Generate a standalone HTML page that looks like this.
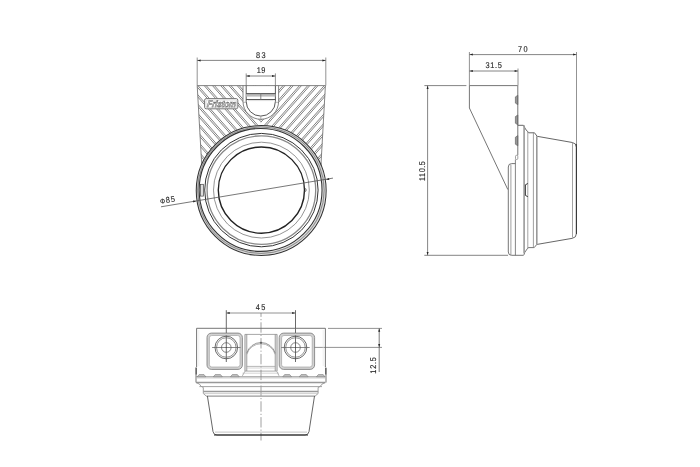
<!DOCTYPE html>
<html><head><meta charset="utf-8"><style>
html,body{margin:0;padding:0;background:#fff;}
svg{display:block;will-change:transform;font-family:"Liberation Sans",sans-serif;}
</style></head><body>
<svg width="700" height="467" viewBox="0 0 700 467">
<rect width="700" height="467" fill="#fff"/>
<defs>
<clipPath id="cl"><polygon points="197.2,85.6 325.6,85.6 320.8,175 202.0,175"/></clipPath>
<clipPath id="cL"><rect x="190" y="80" width="70.8" height="100"/></clipPath>
<clipPath id="cR"><rect x="260.8" y="80" width="70" height="100"/></clipPath>
</defs>
<g clip-path="url(#cl)">
<g clip-path="url(#cL)">
<line x1="75.49" y1="80.00" x2="163.99" y2="180.00" stroke="#4a4a4a" stroke-width="0.7" />
<line x1="77.49" y1="80.00" x2="165.99" y2="180.00" stroke="#4a4a4a" stroke-width="0.7" />
<line x1="83.74" y1="80.00" x2="172.24" y2="180.00" stroke="#4a4a4a" stroke-width="0.7" />
<line x1="85.74" y1="80.00" x2="174.24" y2="180.00" stroke="#4a4a4a" stroke-width="0.7" />
<line x1="91.99" y1="80.00" x2="180.49" y2="180.00" stroke="#4a4a4a" stroke-width="0.7" />
<line x1="93.99" y1="80.00" x2="182.49" y2="180.00" stroke="#4a4a4a" stroke-width="0.7" />
<line x1="100.24" y1="80.00" x2="188.74" y2="180.00" stroke="#4a4a4a" stroke-width="0.7" />
<line x1="102.24" y1="80.00" x2="190.74" y2="180.00" stroke="#4a4a4a" stroke-width="0.7" />
<line x1="108.49" y1="80.00" x2="196.99" y2="180.00" stroke="#4a4a4a" stroke-width="0.7" />
<line x1="110.49" y1="80.00" x2="198.99" y2="180.00" stroke="#4a4a4a" stroke-width="0.7" />
<line x1="116.74" y1="80.00" x2="205.24" y2="180.00" stroke="#4a4a4a" stroke-width="0.7" />
<line x1="118.74" y1="80.00" x2="207.24" y2="180.00" stroke="#4a4a4a" stroke-width="0.7" />
<line x1="124.99" y1="80.00" x2="213.49" y2="180.00" stroke="#4a4a4a" stroke-width="0.7" />
<line x1="126.99" y1="80.00" x2="215.49" y2="180.00" stroke="#4a4a4a" stroke-width="0.7" />
<line x1="133.24" y1="80.00" x2="221.74" y2="180.00" stroke="#4a4a4a" stroke-width="0.7" />
<line x1="135.24" y1="80.00" x2="223.74" y2="180.00" stroke="#4a4a4a" stroke-width="0.7" />
<line x1="141.49" y1="80.00" x2="229.99" y2="180.00" stroke="#4a4a4a" stroke-width="0.7" />
<line x1="143.49" y1="80.00" x2="231.99" y2="180.00" stroke="#4a4a4a" stroke-width="0.7" />
<line x1="149.74" y1="80.00" x2="238.24" y2="180.00" stroke="#4a4a4a" stroke-width="0.7" />
<line x1="151.74" y1="80.00" x2="240.24" y2="180.00" stroke="#4a4a4a" stroke-width="0.7" />
<line x1="157.99" y1="80.00" x2="246.49" y2="180.00" stroke="#4a4a4a" stroke-width="0.7" />
<line x1="159.99" y1="80.00" x2="248.49" y2="180.00" stroke="#4a4a4a" stroke-width="0.7" />
<line x1="166.24" y1="80.00" x2="254.74" y2="180.00" stroke="#4a4a4a" stroke-width="0.7" />
<line x1="168.24" y1="80.00" x2="256.74" y2="180.00" stroke="#4a4a4a" stroke-width="0.7" />
<line x1="174.49" y1="80.00" x2="262.99" y2="180.00" stroke="#4a4a4a" stroke-width="0.7" />
<line x1="176.49" y1="80.00" x2="264.99" y2="180.00" stroke="#4a4a4a" stroke-width="0.7" />
<line x1="182.74" y1="80.00" x2="271.24" y2="180.00" stroke="#4a4a4a" stroke-width="0.7" />
<line x1="184.74" y1="80.00" x2="273.24" y2="180.00" stroke="#4a4a4a" stroke-width="0.7" />
<line x1="190.99" y1="80.00" x2="279.49" y2="180.00" stroke="#4a4a4a" stroke-width="0.7" />
<line x1="192.99" y1="80.00" x2="281.49" y2="180.00" stroke="#4a4a4a" stroke-width="0.7" />
<line x1="199.24" y1="80.00" x2="287.74" y2="180.00" stroke="#4a4a4a" stroke-width="0.7" />
<line x1="201.24" y1="80.00" x2="289.74" y2="180.00" stroke="#4a4a4a" stroke-width="0.7" />
<line x1="207.49" y1="80.00" x2="295.99" y2="180.00" stroke="#4a4a4a" stroke-width="0.7" />
<line x1="209.49" y1="80.00" x2="297.99" y2="180.00" stroke="#4a4a4a" stroke-width="0.7" />
<line x1="215.74" y1="80.00" x2="304.24" y2="180.00" stroke="#4a4a4a" stroke-width="0.7" />
<line x1="217.74" y1="80.00" x2="306.24" y2="180.00" stroke="#4a4a4a" stroke-width="0.7" />
<line x1="223.99" y1="80.00" x2="312.49" y2="180.00" stroke="#4a4a4a" stroke-width="0.7" />
<line x1="225.99" y1="80.00" x2="314.49" y2="180.00" stroke="#4a4a4a" stroke-width="0.7" />
<line x1="232.24" y1="80.00" x2="320.74" y2="180.00" stroke="#4a4a4a" stroke-width="0.7" />
<line x1="234.24" y1="80.00" x2="322.74" y2="180.00" stroke="#4a4a4a" stroke-width="0.7" />
<line x1="240.49" y1="80.00" x2="328.99" y2="180.00" stroke="#4a4a4a" stroke-width="0.7" />
<line x1="242.49" y1="80.00" x2="330.99" y2="180.00" stroke="#4a4a4a" stroke-width="0.7" />
<line x1="248.74" y1="80.00" x2="337.24" y2="180.00" stroke="#4a4a4a" stroke-width="0.7" />
<line x1="250.74" y1="80.00" x2="339.24" y2="180.00" stroke="#4a4a4a" stroke-width="0.7" />
<line x1="256.99" y1="80.00" x2="345.49" y2="180.00" stroke="#4a4a4a" stroke-width="0.7" />
<line x1="258.99" y1="80.00" x2="347.49" y2="180.00" stroke="#4a4a4a" stroke-width="0.7" />
<line x1="265.24" y1="80.00" x2="353.74" y2="180.00" stroke="#4a4a4a" stroke-width="0.7" />
<line x1="267.24" y1="80.00" x2="355.74" y2="180.00" stroke="#4a4a4a" stroke-width="0.7" />
<line x1="273.49" y1="80.00" x2="361.99" y2="180.00" stroke="#4a4a4a" stroke-width="0.7" />
<line x1="275.49" y1="80.00" x2="363.99" y2="180.00" stroke="#4a4a4a" stroke-width="0.7" />
<line x1="281.74" y1="80.00" x2="370.24" y2="180.00" stroke="#4a4a4a" stroke-width="0.7" />
<line x1="283.74" y1="80.00" x2="372.24" y2="180.00" stroke="#4a4a4a" stroke-width="0.7" />
<line x1="289.99" y1="80.00" x2="378.49" y2="180.00" stroke="#4a4a4a" stroke-width="0.7" />
<line x1="291.99" y1="80.00" x2="380.49" y2="180.00" stroke="#4a4a4a" stroke-width="0.7" />
<line x1="298.24" y1="80.00" x2="386.74" y2="180.00" stroke="#4a4a4a" stroke-width="0.7" />
<line x1="300.24" y1="80.00" x2="388.74" y2="180.00" stroke="#4a4a4a" stroke-width="0.7" />
</g>
<g clip-path="url(#cR)">
<line x1="446.71" y1="80.00" x2="358.21" y2="180.00" stroke="#4a4a4a" stroke-width="0.7" />
<line x1="444.71" y1="80.00" x2="356.21" y2="180.00" stroke="#4a4a4a" stroke-width="0.7" />
<line x1="438.46" y1="80.00" x2="349.96" y2="180.00" stroke="#4a4a4a" stroke-width="0.7" />
<line x1="436.46" y1="80.00" x2="347.96" y2="180.00" stroke="#4a4a4a" stroke-width="0.7" />
<line x1="430.21" y1="80.00" x2="341.71" y2="180.00" stroke="#4a4a4a" stroke-width="0.7" />
<line x1="428.21" y1="80.00" x2="339.71" y2="180.00" stroke="#4a4a4a" stroke-width="0.7" />
<line x1="421.96" y1="80.00" x2="333.46" y2="180.00" stroke="#4a4a4a" stroke-width="0.7" />
<line x1="419.96" y1="80.00" x2="331.46" y2="180.00" stroke="#4a4a4a" stroke-width="0.7" />
<line x1="413.71" y1="80.00" x2="325.21" y2="180.00" stroke="#4a4a4a" stroke-width="0.7" />
<line x1="411.71" y1="80.00" x2="323.21" y2="180.00" stroke="#4a4a4a" stroke-width="0.7" />
<line x1="405.46" y1="80.00" x2="316.96" y2="180.00" stroke="#4a4a4a" stroke-width="0.7" />
<line x1="403.46" y1="80.00" x2="314.96" y2="180.00" stroke="#4a4a4a" stroke-width="0.7" />
<line x1="397.21" y1="80.00" x2="308.71" y2="180.00" stroke="#4a4a4a" stroke-width="0.7" />
<line x1="395.21" y1="80.00" x2="306.71" y2="180.00" stroke="#4a4a4a" stroke-width="0.7" />
<line x1="388.96" y1="80.00" x2="300.46" y2="180.00" stroke="#4a4a4a" stroke-width="0.7" />
<line x1="386.96" y1="80.00" x2="298.46" y2="180.00" stroke="#4a4a4a" stroke-width="0.7" />
<line x1="380.71" y1="80.00" x2="292.21" y2="180.00" stroke="#4a4a4a" stroke-width="0.7" />
<line x1="378.71" y1="80.00" x2="290.21" y2="180.00" stroke="#4a4a4a" stroke-width="0.7" />
<line x1="372.46" y1="80.00" x2="283.96" y2="180.00" stroke="#4a4a4a" stroke-width="0.7" />
<line x1="370.46" y1="80.00" x2="281.96" y2="180.00" stroke="#4a4a4a" stroke-width="0.7" />
<line x1="364.21" y1="80.00" x2="275.71" y2="180.00" stroke="#4a4a4a" stroke-width="0.7" />
<line x1="362.21" y1="80.00" x2="273.71" y2="180.00" stroke="#4a4a4a" stroke-width="0.7" />
<line x1="355.96" y1="80.00" x2="267.46" y2="180.00" stroke="#4a4a4a" stroke-width="0.7" />
<line x1="353.96" y1="80.00" x2="265.46" y2="180.00" stroke="#4a4a4a" stroke-width="0.7" />
<line x1="347.71" y1="80.00" x2="259.21" y2="180.00" stroke="#4a4a4a" stroke-width="0.7" />
<line x1="345.71" y1="80.00" x2="257.21" y2="180.00" stroke="#4a4a4a" stroke-width="0.7" />
<line x1="339.46" y1="80.00" x2="250.96" y2="180.00" stroke="#4a4a4a" stroke-width="0.7" />
<line x1="337.46" y1="80.00" x2="248.96" y2="180.00" stroke="#4a4a4a" stroke-width="0.7" />
<line x1="331.21" y1="80.00" x2="242.71" y2="180.00" stroke="#4a4a4a" stroke-width="0.7" />
<line x1="329.21" y1="80.00" x2="240.71" y2="180.00" stroke="#4a4a4a" stroke-width="0.7" />
<line x1="322.96" y1="80.00" x2="234.46" y2="180.00" stroke="#4a4a4a" stroke-width="0.7" />
<line x1="320.96" y1="80.00" x2="232.46" y2="180.00" stroke="#4a4a4a" stroke-width="0.7" />
<line x1="314.71" y1="80.00" x2="226.21" y2="180.00" stroke="#4a4a4a" stroke-width="0.7" />
<line x1="312.71" y1="80.00" x2="224.21" y2="180.00" stroke="#4a4a4a" stroke-width="0.7" />
<line x1="306.46" y1="80.00" x2="217.96" y2="180.00" stroke="#4a4a4a" stroke-width="0.7" />
<line x1="304.46" y1="80.00" x2="215.96" y2="180.00" stroke="#4a4a4a" stroke-width="0.7" />
<line x1="298.21" y1="80.00" x2="209.71" y2="180.00" stroke="#4a4a4a" stroke-width="0.7" />
<line x1="296.21" y1="80.00" x2="207.71" y2="180.00" stroke="#4a4a4a" stroke-width="0.7" />
<line x1="289.96" y1="80.00" x2="201.46" y2="180.00" stroke="#4a4a4a" stroke-width="0.7" />
<line x1="287.96" y1="80.00" x2="199.46" y2="180.00" stroke="#4a4a4a" stroke-width="0.7" />
<line x1="281.71" y1="80.00" x2="193.21" y2="180.00" stroke="#4a4a4a" stroke-width="0.7" />
<line x1="279.71" y1="80.00" x2="191.21" y2="180.00" stroke="#4a4a4a" stroke-width="0.7" />
<line x1="273.46" y1="80.00" x2="184.96" y2="180.00" stroke="#4a4a4a" stroke-width="0.7" />
<line x1="271.46" y1="80.00" x2="182.96" y2="180.00" stroke="#4a4a4a" stroke-width="0.7" />
<line x1="265.21" y1="80.00" x2="176.71" y2="180.00" stroke="#4a4a4a" stroke-width="0.7" />
<line x1="263.21" y1="80.00" x2="174.71" y2="180.00" stroke="#4a4a4a" stroke-width="0.7" />
<line x1="256.96" y1="80.00" x2="168.46" y2="180.00" stroke="#4a4a4a" stroke-width="0.7" />
<line x1="254.96" y1="80.00" x2="166.46" y2="180.00" stroke="#4a4a4a" stroke-width="0.7" />
<line x1="248.71" y1="80.00" x2="160.21" y2="180.00" stroke="#4a4a4a" stroke-width="0.7" />
<line x1="246.71" y1="80.00" x2="158.21" y2="180.00" stroke="#4a4a4a" stroke-width="0.7" />
<line x1="240.46" y1="80.00" x2="151.96" y2="180.00" stroke="#4a4a4a" stroke-width="0.7" />
<line x1="238.46" y1="80.00" x2="149.96" y2="180.00" stroke="#4a4a4a" stroke-width="0.7" />
<line x1="232.21" y1="80.00" x2="143.71" y2="180.00" stroke="#4a4a4a" stroke-width="0.7" />
<line x1="230.21" y1="80.00" x2="141.71" y2="180.00" stroke="#4a4a4a" stroke-width="0.7" />
<line x1="223.96" y1="80.00" x2="135.46" y2="180.00" stroke="#4a4a4a" stroke-width="0.7" />
<line x1="221.96" y1="80.00" x2="133.46" y2="180.00" stroke="#4a4a4a" stroke-width="0.7" />
</g>
</g>
<circle cx="261.2" cy="190.5" r="65.3" fill="#fff"/>
<path d="M243,85.6 V101.5 A17.75,17.75 0 0 0 278.5,101.5 V85.6 Z" fill="#fff"/>
<rect x="204.3" y="98.4" width="33.7" height="10.6" rx="1.5" fill="#fff"/>
<line x1="197.20" y1="85.60" x2="325.60" y2="85.60" stroke="#777" stroke-width="0.9" />
<line x1="197.20" y1="85.60" x2="201.80" y2="166.00" stroke="#777" stroke-width="0.9" />
<line x1="325.40" y1="85.60" x2="320.90" y2="166.00" stroke="#777" stroke-width="0.9" />
<path d="M243,85.6 V101.5 A17.8,17.8 0 0 0 278.6,101.5 V85.6" fill="none" stroke="#666" stroke-width="0.8"/>
<path d="M246.2,85.6 V101.5 A14.6,14.6 0 0 0 275.4,101.5 V85.6" fill="none" stroke="#444" stroke-width="0.9"/>
<rect x="246.2" y="93.6" width="29.2" height="3" fill="#bbb"/>
<line x1="246.20" y1="93.60" x2="275.40" y2="93.60" stroke="#444" stroke-width="0.9" />
<line x1="246.20" y1="99.50" x2="275.40" y2="99.50" stroke="#444" stroke-width="0.9" />
<line x1="260.80" y1="93.60" x2="260.80" y2="99.50" stroke="#777" stroke-width="0.9" />
<line x1="248.00" y1="100.60" x2="273.60" y2="100.60" stroke="#d0d0d0" stroke-width="0.7" />
<line x1="260.80" y1="116.10" x2="260.80" y2="119.30" stroke="#999" stroke-width="0.8" />
<line x1="243.00" y1="102.30" x2="246.20" y2="102.30" stroke="#888" stroke-width="0.6" />
<line x1="275.40" y1="102.30" x2="278.60" y2="102.30" stroke="#888" stroke-width="0.6" />
<rect x="204.6" y="98.6" width="33.2" height="10.2" rx="1.6" fill="none" stroke="#666" stroke-width="0.9"/>
<rect x="206.1" y="100" width="30.6" height="7.6" rx="0.8" fill="none" stroke="#bbb" stroke-width="0.5"/>
<text x="221.3" y="107.3" font-size="9.4" font-weight="bold" font-style="italic" text-anchor="middle" fill="#e4e4e4" stroke="#555" stroke-width="0.5" textLength="29.0" lengthAdjust="spacingAndGlyphs" text-rendering="geometricPrecision" transform="translate(221.3 107.3) skewX(-8) translate(-221.3 -107.3)">Fristom</text>
<circle cx="260.9" cy="190.2" r="63.2" fill="none" stroke="#d4d4d4" stroke-width="2.6"/>
<circle cx="260.9" cy="190.2" r="63.3" fill="none" stroke="#777" stroke-width="0.8"/>
<circle cx="261.2" cy="190.5" r="64.95" fill="none" stroke="#333" stroke-width="1.05"/>
<circle cx="260.6" cy="189.95" r="61.45" fill="none" stroke="#333" stroke-width="1.1"/>
<circle cx="261.4" cy="190.1" r="56.7" fill="none" stroke="#333" stroke-width="1.0"/>
<circle cx="261.4" cy="190.1" r="54.3" fill="none" stroke="#888" stroke-width="1.3"/>
<circle cx="261.4" cy="190.1" r="47.9" fill="none" stroke="#7a7a7a" stroke-width="0.8"/>
<circle cx="261.4" cy="190.1" r="43.1" fill="none" stroke="#222" stroke-width="1.4"/>
<rect x="200.4" y="184.3" width="3.0" height="11.8" fill="#ddd" stroke="#444" stroke-width="0.7"/>
<path d="M304.5,188.3 A1.7,1.7 0 0 1 304.5,191.7" fill="none" stroke="#555" stroke-width="0.8"/>
<line x1="197.20" y1="57.50" x2="197.20" y2="85.60" stroke="#777" stroke-width="0.8" />
<line x1="325.80" y1="57.50" x2="325.80" y2="85.60" stroke="#777" stroke-width="0.8" />
<line x1="197.20" y1="60.40" x2="325.80" y2="60.40" stroke="#666" stroke-width="0.8" />
<polygon points="197.40,60.40 200.60,59.40 200.60,61.40" fill="#222"/>
<polygon points="325.60,60.40 322.40,61.40 322.40,59.40" fill="#222"/>
<text x="261.5" y="57.8" font-size="8.4" text-anchor="middle" letter-spacing="1.6" fill="#262626" stroke="#262626" stroke-width="0.14" text-rendering="geometricPrecision" transform="translate(261.5 57.8) scale(0.88 1) translate(-261.5 -57.8)">83</text>
<line x1="246.20" y1="73.40" x2="246.20" y2="85.60" stroke="#777" stroke-width="0.8" />
<line x1="275.40" y1="73.40" x2="275.40" y2="85.60" stroke="#777" stroke-width="0.8" />
<line x1="246.20" y1="76.00" x2="275.40" y2="76.00" stroke="#666" stroke-width="0.8" />
<polygon points="246.40,76.00 249.60,75.00 249.60,77.00" fill="#222"/>
<polygon points="275.20,76.00 272.00,77.00 272.00,75.00" fill="#222"/>
<text x="261.3" y="72.9" font-size="8.4" text-anchor="middle" letter-spacing="0.5" fill="#262626" stroke="#262626" stroke-width="0.14" text-rendering="geometricPrecision" transform="translate(261.3 72.9) scale(0.88 1) translate(-261.3 -72.9)">19</text>
<line x1="161.00" y1="206.80" x2="333.00" y2="178.10" stroke="#555" stroke-width="0.8" />
<polygon points="196.30,201.00 193.31,202.51 192.98,200.54" fill="#222"/>
<polygon points="326.00,179.50 328.99,177.99 329.32,179.96" fill="#222"/>
<text x="168.4" y="202.7" font-size="8.4" text-anchor="middle" letter-spacing="1.1" fill="#2a2a2a" stroke="#2a2a2a" stroke-width="0.14" text-rendering="geometricPrecision" transform="rotate(-9.5 168.4 202.7) translate(168.4 202.7) scale(0.88 1) translate(-168.4 -202.7)"><tspan font-size="7.2">&#934;</tspan>85</text>
<line x1="469.40" y1="52.00" x2="469.40" y2="85.60" stroke="#777" stroke-width="0.8" />
<line x1="576.50" y1="52.00" x2="576.50" y2="143.70" stroke="#777" stroke-width="0.8" />
<line x1="469.40" y1="54.60" x2="576.50" y2="54.60" stroke="#666" stroke-width="0.8" />
<polygon points="469.60,54.60 472.80,53.60 472.80,55.60" fill="#222"/>
<polygon points="576.30,54.60 573.10,55.60 573.10,53.60" fill="#222"/>
<text x="523.5" y="51.8" font-size="8.4" text-anchor="middle" letter-spacing="1.6" fill="#262626" stroke="#262626" stroke-width="0.14" text-rendering="geometricPrecision" transform="translate(523.5 51.8) scale(0.88 1) translate(-523.5 -51.8)">70</text>
<line x1="518.00" y1="68.50" x2="518.00" y2="85.60" stroke="#777" stroke-width="0.8" />
<line x1="469.40" y1="71.00" x2="518.00" y2="71.00" stroke="#666" stroke-width="0.8" />
<polygon points="469.60,71.00 472.80,70.00 472.80,72.00" fill="#222"/>
<polygon points="517.80,71.00 514.60,72.00 514.60,70.00" fill="#222"/>
<text x="494.0" y="68.2" font-size="8.4" text-anchor="middle" letter-spacing="0.75" fill="#262626" stroke="#262626" stroke-width="0.14" text-rendering="geometricPrecision" transform="translate(494.0 68.2) scale(0.88 1) translate(-494.0 -68.2)">31.5</text>
<line x1="424.40" y1="85.60" x2="466.40" y2="85.60" stroke="#777" stroke-width="0.9" />
<line x1="424.30" y1="255.30" x2="508.00" y2="255.30" stroke="#777" stroke-width="0.9" />
<line x1="427.60" y1="85.60" x2="427.60" y2="255.30" stroke="#666" stroke-width="0.8" />
<polygon points="427.60,85.80 428.60,89.00 426.60,89.00" fill="#222"/>
<polygon points="427.60,255.10 426.60,251.90 428.60,251.90" fill="#222"/>
<text x="424.8" y="170.8" font-size="8.4" text-anchor="middle" letter-spacing="0.6" fill="#262626" stroke="#262626" stroke-width="0.14" text-rendering="geometricPrecision" transform="rotate(-90 424.8 170.8) translate(424.8 170.8) scale(0.88 1) translate(-424.8 -170.8)">110.5</text>
<line x1="469.40" y1="85.60" x2="517.70" y2="85.60" stroke="#666" stroke-width="0.9" />
<line x1="469.40" y1="85.60" x2="469.40" y2="108.00" stroke="#666" stroke-width="0.9" />
<line x1="469.40" y1="108.00" x2="507.80" y2="189.50" stroke="#666" stroke-width="0.9" />
<polygon points="517.8,95.3 515.4,96.89999999999999 515.4,103.10000000000001 517.8,104.7" fill="#999" stroke="#666" stroke-width="0.7"/>
<polygon points="517.8,115 515.4,116.6 515.4,123.2 517.8,124.8" fill="#999" stroke="#666" stroke-width="0.7"/>
<polygon points="517.8,135.6 515.4,137.2 515.4,144.20000000000002 517.8,145.8" fill="#999" stroke="#666" stroke-width="0.7"/>
<path d="M517.8,85.6 V155.3" fill="none" stroke="#666" stroke-width="0.9"/>
<rect x="515.5" y="155.3" width="2.3" height="4.2" rx="1.1" fill="none" stroke="#777" stroke-width="0.7"/>
<line x1="515.40" y1="159.50" x2="515.40" y2="255.30" stroke="#666" stroke-width="0.8" />
<path d="M515.4,163.6 H511.6 Q508.3,163.6 508.3,167 V252 Q508.3,255.3 511.6,255.3 H523.2 Q524.4,255.3 524.8,252.3 L528.1,247.6 H534.2 L537,244.2" fill="none" stroke="#666" stroke-width="0.9"/>
<line x1="510.90" y1="164.50" x2="510.90" y2="255.30" stroke="#888" stroke-width="0.8" />
<path d="M517.8,125.3 H523.4 L525.5,129 L528.5,132.8 H534.5 L537.1,136.3 L572.4,142.5 Q576.4,143.2 576.4,147.2 V233.6 Q576.4,237.6 572.4,238.3 L537.1,244.4" fill="none" stroke="#555" stroke-width="0.9"/>
<line x1="524.10" y1="125.30" x2="524.10" y2="253.50" stroke="#999" stroke-width="1.6" />
<line x1="527.80" y1="131.00" x2="527.80" y2="249.00" stroke="#999" stroke-width="0.9" />
<line x1="533.40" y1="132.80" x2="533.40" y2="247.60" stroke="#888" stroke-width="0.8" />
<line x1="536.80" y1="136.30" x2="536.80" y2="244.40" stroke="#999" stroke-width="1.6" />
<line x1="572.50" y1="143.00" x2="572.50" y2="237.70" stroke="#999" stroke-width="0.9" />
<path d="M527.8,183.5 L525.4,184.8 V195.4 L527.8,196.7" fill="none" stroke="#222" stroke-width="0.9"/>
<line x1="576.40" y1="143.70" x2="576.40" y2="234.00" stroke="#333" stroke-width="1.0" />
<line x1="261" y1="313" x2="261" y2="440.5" stroke="#888" stroke-width="0.8" stroke-dasharray="10.4,2.1,1.2,2.1" stroke-dashoffset="6.5"/>
<circle cx="261" cy="342.8" r="1.1" fill="#333"/>
<line x1="226.30" y1="310.20" x2="226.30" y2="362.00" stroke="#444" stroke-width="0.8" />
<line x1="295.50" y1="310.20" x2="295.50" y2="362.00" stroke="#444" stroke-width="0.8" />
<line x1="226.30" y1="313.00" x2="295.50" y2="313.00" stroke="#777" stroke-width="0.8" />
<polygon points="226.50,313.00 229.70,312.00 229.70,314.00" fill="#222"/>
<polygon points="295.30,313.00 292.10,314.00 292.10,312.00" fill="#222"/>
<text x="261.2" y="310.2" font-size="8.4" text-anchor="middle" letter-spacing="1.6" fill="#262626" stroke="#262626" stroke-width="0.14" text-rendering="geometricPrecision" transform="translate(261.2 310.2) scale(0.88 1) translate(-261.2 -310.2)">45</text>
<line x1="328.00" y1="328.40" x2="382.00" y2="328.40" stroke="#777" stroke-width="0.8" />
<line x1="313.00" y1="347.40" x2="382.00" y2="347.40" stroke="#777" stroke-width="0.8" />
<line x1="379.20" y1="328.40" x2="379.20" y2="372.00" stroke="#555" stroke-width="0.8" />
<polygon points="379.20,328.60 380.20,331.80 378.20,331.80" fill="#222"/>
<polygon points="379.20,347.20 378.20,344.00 380.20,344.00" fill="#222"/>
<text x="376.1" y="365.0" font-size="8.4" text-anchor="middle" letter-spacing="0.9" fill="#262626" stroke="#262626" stroke-width="0.14" text-rendering="geometricPrecision" transform="rotate(-90 376.1 365.0) translate(376.1 365.0) scale(0.88 1) translate(-376.1 -365.0)">12.5</text>
<path d="M196.6,367 V328.3 H325.4 V367" fill="none" stroke="#666" stroke-width="0.9"/>
<path d="M196.6,367 L196.0,367.6 V382.5 M325.4,367 L326.0,367.6 V382.5" fill="none" stroke="#666" stroke-width="0.9"/>
<line x1="196.20" y1="368.00" x2="196.20" y2="374.50" stroke="#444" stroke-width="1.0" />
<line x1="325.80" y1="368.00" x2="325.80" y2="374.50" stroke="#444" stroke-width="1.0" />
<line x1="198.80" y1="330.00" x2="198.80" y2="366.00" stroke="#e6e6e6" stroke-width="0.6" />
<line x1="323.20" y1="330.00" x2="323.20" y2="366.00" stroke="#e6e6e6" stroke-width="0.6" />
<rect x="208.2" y="334.3" width="33.0" height="33.9" rx="3.4" fill="none" stroke="#d2d2d2" stroke-width="2.4"/>
<rect x="207.0" y="333.1" width="35.4" height="36.3" rx="4.4" fill="none" stroke="#777" stroke-width="0.8"/>
<rect x="209.4" y="335.5" width="30.6" height="31.5" rx="2.4" fill="none" stroke="#999" stroke-width="0.6"/>
<rect x="280.4" y="334.3" width="33.0" height="33.9" rx="3.4" fill="none" stroke="#d2d2d2" stroke-width="2.4"/>
<rect x="279.2" y="333.1" width="35.4" height="36.3" rx="4.4" fill="none" stroke="#777" stroke-width="0.8"/>
<rect x="281.59999999999997" y="335.5" width="30.6" height="31.5" rx="2.4" fill="none" stroke="#999" stroke-width="0.6"/>
<circle cx="226.3" cy="347.5" r="11.3" fill="none" stroke="#444" stroke-width="0.8"/>
<circle cx="226.3" cy="347.5" r="9.75" fill="none" stroke="#666" stroke-width="0.7"/>
<circle cx="226.3" cy="347.5" r="4.8" fill="none" stroke="#555" stroke-width="0.7"/>
<circle cx="226.3" cy="347.5" r="0.6" fill="#333"/>
<line x1="212.10" y1="347.50" x2="240.50" y2="347.50" stroke="#555" stroke-width="0.7" />
<circle cx="295.5" cy="347.5" r="11.3" fill="none" stroke="#444" stroke-width="0.8"/>
<circle cx="295.5" cy="347.5" r="9.75" fill="none" stroke="#666" stroke-width="0.7"/>
<circle cx="295.5" cy="347.5" r="4.8" fill="none" stroke="#555" stroke-width="0.7"/>
<circle cx="295.5" cy="347.5" r="0.6" fill="#333"/>
<line x1="281.30" y1="347.50" x2="309.70" y2="347.50" stroke="#555" stroke-width="0.7" />
<rect x="244.9" y="334.4" width="1.9" height="36.7" fill="#e2e2e2"/>
<rect x="275.2" y="334.4" width="1.9" height="36.7" fill="#e2e2e2"/>
<path d="M244.9,371 V334.4 H277.1 V371 M246.8,371 V334.4 M275.2,371 V334.4" fill="none" stroke="#888" stroke-width="0.75"/>
<path d="M246.8,353.2 A14.8,14.8 0 0 1 275.2,353.2" fill="none" stroke="#777" stroke-width="0.8"/>
<path d="M246.8,355.0 A14.8,14.8 0 0 1 275.2,355.0" fill="none" stroke="#999" stroke-width="0.7" transform="translate(0 -0.6)"/>
<line x1="246.80" y1="366.40" x2="275.20" y2="366.40" stroke="#999" stroke-width="0.7" />
<line x1="246.80" y1="368.00" x2="275.20" y2="368.00" stroke="#bbb" stroke-width="0.6" />
<line x1="245.00" y1="371.10" x2="276.70" y2="371.10" stroke="#888" stroke-width="0.7" />
<path d="M245,371.1 L242.4,375.8 M276.7,371.1 L279,375.8" fill="none" stroke="#888" stroke-width="0.7"/>
<line x1="242.40" y1="373.20" x2="279.00" y2="373.20" stroke="#bbb" stroke-width="0.6" />
<line x1="196.10" y1="376.80" x2="325.30" y2="376.80" stroke="#888" stroke-width="0.9" />
<polygon points="197.3,376.8 199.10000000000002,374.6 204.0,374.6 205.8,376.8" fill="#c4c4c4" stroke="#777" stroke-width="0.6"/>
<polygon points="213.4,376.8 215.20000000000002,374.6 220.5,374.6 222.3,376.8" fill="#c4c4c4" stroke="#777" stroke-width="0.6"/>
<polygon points="230.5,376.8 232.3,374.6 237.39999999999998,374.6 239.2,376.8" fill="#c4c4c4" stroke="#777" stroke-width="0.6"/>
<polygon points="282.8,376.8 284.6,374.6 289.7,374.6 291.5,376.8" fill="#c4c4c4" stroke="#777" stroke-width="0.6"/>
<polygon points="299.3,376.8 301.1,374.6 306.3,374.6 308.1,376.8" fill="#c4c4c4" stroke="#777" stroke-width="0.6"/>
<polygon points="316.5,376.8 318.3,374.6 323.2,374.6 325.0,376.8" fill="#c4c4c4" stroke="#777" stroke-width="0.6"/>
<line x1="196.10" y1="378.00" x2="325.30" y2="378.00" stroke="#bbb" stroke-width="0.7" />
<line x1="196.10" y1="382.50" x2="325.30" y2="382.50" stroke="#999" stroke-width="1.6" />
<path d="M196.1,382.5 L199.4,384.1 L201.1,386.3 L203.3,387.5 V393.5 L206.3,396.1 M325.3,382.5 L322,384.1 L320.3,386.3 L318.1,387.5 V393.5 L315.1,396.1" fill="none" stroke="#888" stroke-width="0.8"/>
<line x1="199.40" y1="386.60" x2="322.00" y2="386.60" stroke="#999" stroke-width="0.9" />
<line x1="203.30" y1="391.40" x2="318.10" y2="391.40" stroke="#999" stroke-width="1.5" />
<line x1="203.30" y1="393.60" x2="318.10" y2="393.60" stroke="#bbb" stroke-width="0.7" />
<line x1="206.30" y1="396.10" x2="315.10" y2="396.10" stroke="#999" stroke-width="1.4" />
<path d="M207.4,396 L213,431.6 Q213.6,435 217,435 H305 Q308.4,435 309,431.6 L314.5,396" fill="none" stroke="#555" stroke-width="0.9"/>
<line x1="215.00" y1="432.10" x2="307.00" y2="432.10" stroke="#aaa" stroke-width="0.7" />
<line x1="214.00" y1="435.00" x2="308.00" y2="435.00" stroke="#222" stroke-width="1.1" />
</svg></body></html>
